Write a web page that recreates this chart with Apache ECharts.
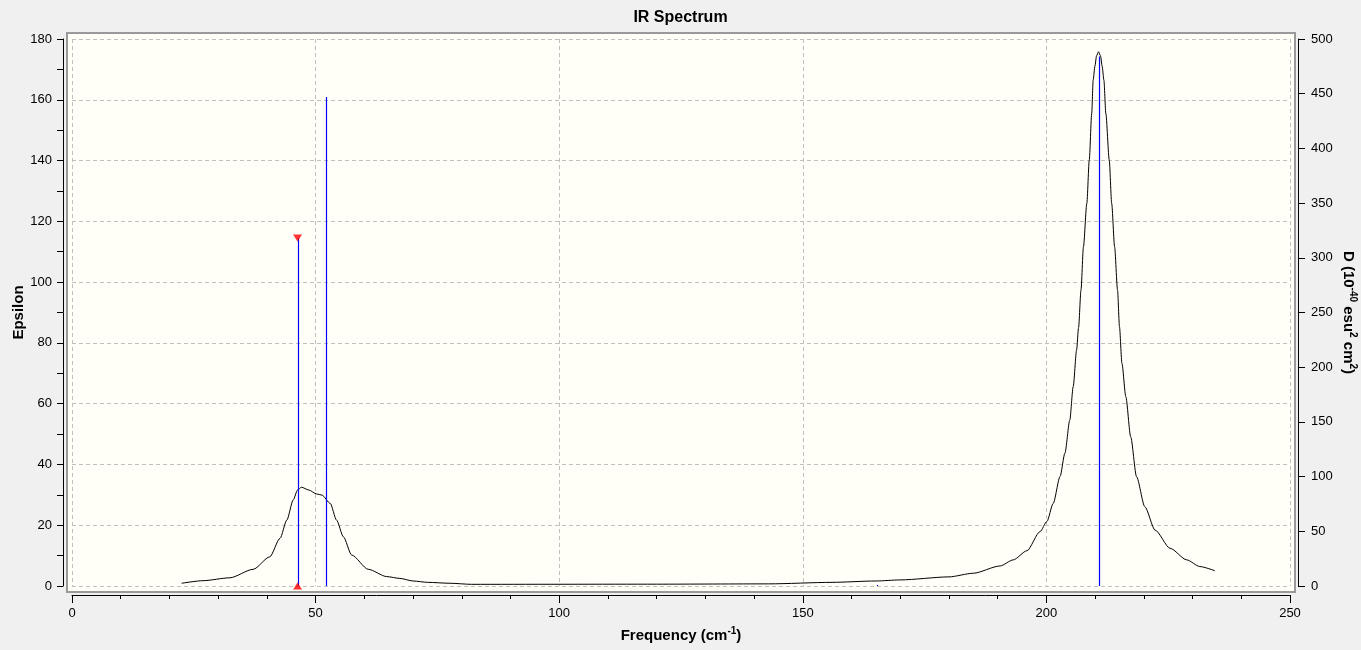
<!DOCTYPE html>
<html>
<head>
<meta charset="utf-8">
<title>IR Spectrum</title>
<script src="https://cdn.jsdelivr.net/npm/echarts@6/dist/echarts.min.js"></script>
<style>
    html, body { margin: 0; padding: 0; background: #f0f0f0; }
    #chart { width: 1361px; height: 650px; }
</style>
</head>
<body>
<div id="chart"></div>
<script>
// broadened spectrum (left axis, epsilon)
const freq = [22.5, 26.9, 32.4, 37.2, 40.6, 42.7, 44.1, 45.4, 46.3, 47.1, 48.6, 50.2, 51.3, 53.0, 54.3, 55.7, 57.4, 60.8,
    64.6, 67.3, 70.0, 73.0, 77.6, 82.0, 120.0, 143.0, 156.0, 165.0, 170.0, 180.0, 185.0, 190.5, 193.2, 196.0,
    198.7, 200.1, 201.4, 202.8, 203.8, 204.8, 205.5, 206.2, 206.6, 207.1, 207.6, 208.3, 208.8, 209.3, 209.6,
    209.95, 210.3, 210.7, 211.1, 211.45, 211.8, 212.2, 212.9, 213.4, 214.0, 214.6, 215.0, 215.5, 216.3, 217.3,
    218.5, 220.2, 222.3, 225.4, 228.8, 231.5, 234.6];
const epsilon = [0.9, 1.75, 2.7, 5.5, 9.6, 15.7, 21.7, 28.3, 31.6, 32.5, 31.6, 30.3, 29.9, 27.2, 21.7, 16.2, 10.2, 5.5,
    3.1, 2.5, 1.65, 1.2, 0.9, 0.55, 0.6, 0.7, 1.2, 1.65, 2.0, 3.0, 4.2, 6.6, 8.6, 11.6,
    17.9, 21.2, 27.2, 36.0, 43.7, 54.6, 65.6, 77.7, 85.0, 97.4, 111.6, 125.9, 140.2, 155.5, 166.5,
    171.0, 174.5, 175.8, 174.5, 171.0, 166.5, 155.5, 140.2, 125.9, 111.6, 97.4, 85.3, 73.3, 62.3, 49.1,
    36.0, 26.1, 18.4, 12.4, 8.6, 6.4, 5.0];

// stick spectrum (right axis, D)
const stickFreq = [46.3, 52.1, 165.2, 210.8];
const stickD = [318, 447, 1, 484];

// selected mode (red markers)
const selFreq = 46.3;
const selD = 318;

const xTicks = { min: 0, max: 250, interval: 50 };
const epsTicks = { min: 0, max: 180, interval: 20 };
const dTicks = { min: 0, max: 500, interval: 50 };

const fontName = "'Liberation Sans', Arial, sans-serif";

var curveData = freq.map((f, i) => [f, epsilon[i]]);
var stickData = stickFreq.map((f, i) => [f, stickD[i]]);

var chart = echarts.init(document.getElementById("chart"));

var axisText = { color: "#000", fontSize: 13, fontFamily: fontName };
var supStyle = { fontSize: 10, fontWeight: "bold", fontFamily: fontName, verticalAlign: "top", color: "#000" };

chart.setOption({
    backgroundColor: "#f0f0f0",
    animation: false,
    title: {
        text: "IR Spectrum",
        left: "center",
        top: 5,
        textStyle: { fontSize: 16, fontWeight: "bold", fontFamily: fontName, color: "#000" }
    },
    grid: [
        // frame of the plot area
        { left: 67, top: 33, width: 1228, height: 559, show: true, backgroundColor: "#fffff7", borderColor: "#9a9a9a", borderWidth: 2,
          containLabel: false, outerBoundsMode: "none" },
        // data area
        { left: 72, right: 71, top: 39, bottom: 64, containLabel: false, outerBoundsMode: "none" }
    ],
    xAxis: [
        { gridIndex: 0, type: "value", show: false },
        {
            gridIndex: 1, type: "value", min: xTicks.min, max: xTicks.max, interval: xTicks.interval,
            offset: 9,
            axisLine: { onZero: false, lineStyle: { color: "#000", width: 1 } },
            axisTick: { inside: false, length: 8, lineStyle: { color: "#000" } },
            minorTick: { show: true, splitNumber: 5, length: 4, lineStyle: { color: "#000" } },
            axisLabel: Object.assign({ margin: 12 }, axisText),
            splitLine: { show: true, lineStyle: { color: "#c0c0c0", type: [4, 3] } },
            name: "Frequency (cm{sup|-1})",
            nameLocation: "middle",
            nameGap: 31,
            nameMoveOverlap: false,
            nameTextStyle: { fontSize: 15, fontWeight: "bold", fontFamily: fontName, color: "#000", lineHeight: 20, rich: { sup: supStyle } }
        }
    ],
    yAxis: [
        { gridIndex: 0, type: "value", show: false },
        {
            gridIndex: 1, type: "value", min: epsTicks.min, max: epsTicks.max, interval: epsTicks.interval,
            position: "left",
            offset: 9,
            axisLine: { show: true, onZero: false, lineStyle: { color: "#000", width: 1 } },
            axisTick: { show: true, inside: false, length: 6, lineStyle: { color: "#000" } },
            minorTick: { show: true, splitNumber: 2, length: 6, lineStyle: { color: "#000" } },
            axisLabel: Object.assign({ margin: 11 }, axisText),
            splitLine: { show: true, lineStyle: { color: "#c0c0c0", type: [4, 3] } },
            name: "Epsilon",
            nameLocation: "middle",
            nameGap: 37,
            nameMoveOverlap: false,
            nameTextStyle: { fontSize: 15, fontWeight: "bold", fontFamily: fontName, color: "#000" }
        },
        {
            gridIndex: 1, type: "value", min: dTicks.min, max: dTicks.max, interval: dTicks.interval,
            position: "right",
            offset: 8,
            axisLine: { show: true, onZero: false, lineStyle: { color: "#000", width: 1 } },
            axisTick: { show: true, inside: false, length: 7, lineStyle: { color: "#000" } },
            axisLabel: Object.assign({ margin: 13 }, axisText),
            splitLine: { show: false },
            name: "D (10{sup|-40} esu{sup|2} cm{sup|2})",
            nameLocation: "middle",
            nameRotate: -90,
            nameGap: 40,
            nameMoveOverlap: false,
            nameTextStyle: { fontSize: 15, fontWeight: "bold", fontFamily: fontName, color: "#000", lineHeight: 20, rich: { sup: supStyle } }
        }
    ],
    series: [
        {
            type: "line",
            xAxisIndex: 1,
            yAxisIndex: 1,
            data: curveData,
            showSymbol: false,
            smooth: 0.25,
            smoothMonotone: "x",
            lineStyle: { color: "#000", width: 1 },
            z: 3
        },
        {
            // sticks drawn from zero up to D
            type: "custom",
            xAxisIndex: 1,
            yAxisIndex: 2,
            data: stickData,
            renderItem: function (params, api) {
                var top = api.coord([api.value(0), api.value(1)]);
                var bottom = api.coord([api.value(0), 0]);
                return {
                    type: "line",
                    shape: { x1: Math.round(top[0]) + 0.5, y1: top[1], x2: Math.round(bottom[0]) + 0.5, y2: bottom[1] },
                    style: { stroke: "#0000ff", lineWidth: 1.2 }
                };
            },
            z: 4
        },
        {
            type: "scatter",
            xAxisIndex: 1,
            yAxisIndex: 2,
            symbol: "triangle",
            symbolSize: [9, 7],
            itemStyle: { color: "#ff0000" },
            clip: false,
            data: [
                { value: [selFreq, selD], symbolRotate: 180 },
                { value: [selFreq, 0] }
            ],
            z: 5
        }
    ]
});
</script>
</body>
</html>
